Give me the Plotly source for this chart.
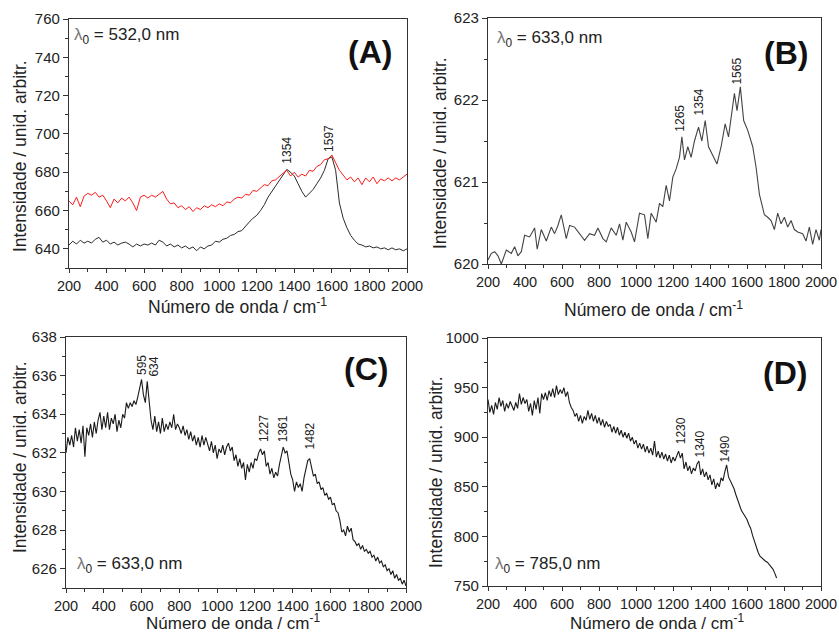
import plotly.graph_objects as go

# ---------------- data ----------------
WN20 = [200, 220, 240, 260, 280, 300, 320, 340, 360, 380, 400, 420, 440, 460, 480, 500,
        520, 540, 560, 580, 600, 620, 640, 660, 680, 700, 720, 740, 760, 780, 800, 820,
        840, 860, 880, 900, 920, 940, 960, 980, 1000, 1020, 1040, 1060, 1080, 1100, 1120,
        1140, 1160, 1180, 1200, 1220, 1240, 1260, 1280, 1300, 1320, 1340, 1360, 1380, 1400,
        1420, 1440, 1460, 1480, 1500, 1520, 1540, 1560, 1580, 1600, 1620, 1640, 1660, 1680,
        1700, 1720, 1740, 1760, 1780, 1800, 1820, 1840, 1860, 1880, 1900, 1920, 1940, 1960,
        1980, 2000]

A_black = [642, 644, 642.5, 644.5, 643, 644, 643, 645, 646, 643.5, 644.5, 642.5, 643.5, 642,
           643, 643.5, 642.5, 641, 642.5, 641.5, 642.5, 642, 643, 642, 644.5, 643.5, 641.5,
           642.5, 641, 642, 640.5, 641.5, 640, 641, 639, 641, 640, 641.5, 642, 644, 643.5,
           645, 645.5, 647, 647.5, 649, 649.5, 652, 654, 656, 657.5, 660, 663, 667, 670, 673,
           676, 679, 681.5, 680, 678, 674, 670, 667, 669, 671, 674, 677, 681, 687, 688, 681,
           664, 656, 651, 647, 644.5, 642.5, 642, 641, 641.5, 640.5, 641, 640, 640.5, 639.5,
           640.5, 639.5, 640, 639, 640]

A_red = [665, 663, 667, 662, 667.5, 669, 668, 669.5, 667, 668, 665, 661.5, 666, 664, 666.5,
         665, 667, 664, 660, 667, 668, 666.5, 668, 667, 668.5, 670, 666, 663.5, 664, 661.5,
         662.5, 660.5, 662, 659.5, 661.5, 660.5, 662.5, 661.5, 663, 662, 663.5, 662.5, 664.5,
         664, 666, 667, 666.5, 668.5, 668, 670.5, 670, 672, 673.5, 673, 675.5, 676, 678,
         679.5, 681, 678, 680, 677.5, 679, 678, 681, 680.5, 683, 684, 686.5, 687, 689, 685,
         681, 678.5, 676, 677.5, 675, 677, 673.5, 677, 675, 677.5, 674, 676.5, 675.5, 677,
         675.5, 677, 676, 677.5, 679]

B_x = [200, 218, 236, 254, 272, 299, 326, 344, 362, 380, 398, 425, 452, 466, 488, 515, 542,
       560, 578, 596, 623, 641, 668, 695, 722, 749, 776, 794, 821, 839, 866, 893, 911, 929,
       947, 974, 992, 1019, 1046, 1064, 1082, 1109, 1127, 1145, 1163, 1181, 1199, 1217, 1235,
       1248, 1262, 1280, 1298, 1316, 1338, 1356, 1374, 1392, 1410, 1424, 1438, 1460, 1482,
       1500, 1532, 1546, 1564, 1582, 1604, 1631, 1649, 1667, 1694, 1712, 1730, 1748, 1766,
       1784, 1802, 1820, 1838, 1856, 1874, 1901, 1919, 1937, 1955, 1973, 1991, 2000]
B_y = [620.05, 620.13, 620.15, 620.1, 620.0, 620.17, 620.13, 620.21, 620.1, 620.15, 620.35,
       620.33, 620.44, 620.18, 620.42, 620.28, 620.45, 620.37, 620.47, 620.6, 620.31, 620.47,
       620.45, 620.37, 620.29, 620.37, 620.35, 620.44, 620.31, 620.27, 620.44, 620.35, 620.49,
       620.29, 620.51, 620.39, 620.27, 620.62, 620.6, 620.31, 620.62, 620.51, 620.74, 620.7,
       620.96, 620.77, 621.06, 621.16, 621.3, 621.55, 621.27, 621.43, 621.3, 621.5, 621.67,
       621.5, 621.75, 621.43, 621.35, 621.3, 621.22, 621.43, 621.71, 621.55, 622.08, 621.87,
       622.16, 621.75, 621.63, 621.43, 621.18, 620.85, 620.6, 620.57, 620.53, 620.42, 620.62,
       620.49, 620.57, 620.45, 620.53, 620.42, 620.39, 620.37, 620.28, 620.45, 620.24, 620.42,
       620.29, 620.42]

WN10 = [200, 210, 220, 230, 240, 250, 260, 270, 280, 290, 300, 310, 320, 330, 340, 350, 360,
        370, 380, 390, 400, 410, 420, 430, 440, 450, 460, 470, 480, 490, 500, 510, 520, 530,
        540, 550, 560, 570, 580, 590, 600, 610, 620, 630, 640, 650, 660, 670, 680, 690, 700,
        710, 720, 730, 740, 750, 760, 770, 780, 790, 800, 810, 820, 830, 840, 850, 860, 870,
        880, 890, 900, 910, 920, 930, 940, 950, 960, 970, 980, 990, 1000, 1010, 1020, 1030,
        1040, 1050, 1060, 1070, 1080, 1090, 1100, 1110, 1120, 1130, 1140, 1150, 1160, 1170,
        1180, 1190, 1200, 1210, 1220, 1230, 1240, 1250, 1260, 1270, 1280, 1290, 1300, 1310,
        1320, 1330, 1340, 1350, 1360, 1370, 1380, 1390, 1400, 1410, 1420, 1430, 1440, 1450,
        1460, 1470, 1480, 1490, 1500, 1510, 1520, 1530, 1540, 1550, 1560, 1570, 1580, 1590,
        1600, 1610, 1620, 1630, 1640, 1650, 1660, 1670, 1680, 1690, 1700, 1710, 1720, 1730,
        1740, 1750, 1760, 1770, 1780, 1790, 1800, 1810, 1820, 1830, 1840, 1850, 1860, 1870,
        1880, 1890, 1900, 1910, 1920, 1930, 1940, 1950, 1960, 1970, 1980, 1990, 2000]

C_y = [632.0, 632.8, 632.4, 632.9, 632.3, 633.3, 632.6, 633.2, 632.5, 633.4, 631.8, 633.3,
       632.9, 633.5, 632.8, 633.6, 633.0, 633.7, 634.1, 633.2, 633.9, 633.3, 634.1, 633.2,
       633.8, 633.5, 634.0, 633.1, 633.7, 633.3, 634.0, 633.8, 634.6, 634.3, 634.6, 634.4,
       634.7, 634.5, 634.9, 635.3, 635.8, 635.0, 634.6, 635.7, 634.5, 633.7, 633.2, 633.9,
       633.1, 633.6, 633.0, 633.8, 633.1, 633.5, 633.2, 633.6, 633.3, 634.0, 633.2, 633.5,
       633.3, 633.0, 633.4, 632.9, 633.2, 632.7, 633.1, 632.6, 632.9, 632.4, 632.8, 632.3,
       632.9, 632.4, 632.8, 632.5, 632.1, 632.6, 632.0, 632.4, 631.7, 632.2, 632.0, 632.4,
       631.9, 632.3, 632.5, 632.1, 632.3, 631.6, 631.9, 631.3, 631.7, 631.2, 631.5, 630.6,
       631.4, 631.0, 631.5, 631.2, 631.7, 631.6, 632.0, 632.2, 631.9, 632.1, 631.3, 631.5,
       630.9, 631.2, 630.7, 631.0, 630.8, 631.4, 631.9, 632.3, 632.0, 632.1, 631.5, 630.9,
       630.6, 630.0, 630.5, 630.2, 630.4, 630.0, 630.7, 631.1, 631.6, 631.7, 631.2, 630.8,
       630.9, 630.4, 630.5, 630.1, 630.2, 629.8, 629.9, 629.6, 629.7, 629.3, 629.4, 629.0,
       628.9, 628.5, 627.9, 628.0, 627.7, 628.2, 627.9, 628.1, 627.5, 627.4, 627.2, 627.3,
       627.0, 627.2, 626.9, 627.0, 626.8, 626.9, 626.6, 626.7, 626.4, 626.6, 626.3, 626.4,
       626.1, 626.2, 625.9, 626.0, 625.7, 625.9, 625.5, 625.7, 625.4, 625.5, 625.2, 625.4,
       625.1]

D_x = WN10[:157]
D_y = [938, 925, 932, 923, 935, 928, 940, 931, 937, 926, 934, 929, 936, 931, 927, 935, 929,
       944, 933, 940, 934, 938, 926, 934, 922, 937, 928, 940, 924, 944, 938, 945, 937, 947,
       941, 949, 940, 952, 943, 948, 944, 950, 941, 946, 935, 930, 927, 921, 924, 916, 922,
       914, 921, 917, 927, 918, 924, 916, 922, 914, 920, 912, 918, 910, 916, 911, 913, 905,
       911, 904, 910, 902, 907, 900, 905, 899, 904, 896, 900, 893, 897, 889, 894, 888, 893,
       885, 891, 884, 889, 882, 896, 880, 886, 879, 885, 878, 883, 876, 882, 874, 880, 876,
       882, 886, 879, 884, 868, 875, 866, 871, 863, 869, 866, 873, 876, 862, 868, 860, 865,
       857, 862, 852, 858, 848, 854, 850, 859, 856, 865, 872, 860, 856, 851, 848, 842, 836,
       831, 826, 823, 820, 817, 812, 808, 801, 795, 789, 784, 780, 778, 777, 775, 774, 772,
       770, 767, 763, 758]

# peak labels: (text, x, y of label base)
A_peaks = [("1354", 1359, 684), ("1597", 1581, 690)]
B_peaks = [("1265", 1240, 621.6), ("1354", 1338, 621.8), ("1565", 1545, 622.18)]
C_peaks = [("595", 599, 636.0), ("634", 666, 635.9), ("1227", 1244, 632.5),
           ("1361", 1347, 632.5), ("1482", 1492, 632.1)]
D_peaks = [("1230", 1241, 892), ("1340", 1346, 878), ("1490", 1486, 874)]

PANEL_LABELS = ["(A)", "(B)", "(C)", "(D)"]
LAMBDAS = ["532,0", "633,0", "633,0", "785,0"]
X_TITLE = "Número de onda / cm<sup>-1</sup>"
Y_TITLE = "Intensidade / unid. arbitr."

# ---------------- figure ----------------
W, H = 839, 635
FONT = "Liberation Sans"


def px(x):
    return x / W


def py(y):
    return 1 - y / H


fig = go.Figure()

fig.add_trace(go.Scatter(x=WN20, y=A_black, mode="lines", line=dict(color="#2b2b2b", width=1),
                         xaxis="x", yaxis="y"))
fig.add_trace(go.Scatter(x=WN20, y=A_red, mode="lines", line=dict(color="#ff1a1a", width=1),
                         xaxis="x", yaxis="y"))
fig.add_trace(go.Scatter(x=B_x, y=B_y, mode="lines", line=dict(color="#444444", width=1.1),
                         xaxis="x2", yaxis="y2"))
fig.add_trace(go.Scatter(x=WN10, y=C_y, mode="lines", line=dict(color="#1a1a1a", width=1.1),
                         xaxis="x3", yaxis="y3"))
fig.add_trace(go.Scatter(x=D_x, y=D_y, mode="lines", line=dict(color="#1a1a1a", width=1.1),
                         xaxis="x4", yaxis="y4"))

common = dict(showline=True, linecolor="#333333", linewidth=1.2, mirror=True,
              ticks="outside", ticklen=5, tickwidth=1, tickcolor="#333333",
              showgrid=False, zeroline=False, automargin=False,
              tickfont=dict(family=FONT, size=15, color="#222222"))


def xax(domain, anchor):
    return dict(common, domain=domain, anchor=anchor, range=[200, 2000], dtick=200, tick0=200,
                ticklen=4, tickfont=dict(family=FONT, size=14.5, color="#222222"),
                minor=dict(ticks="outside", ticklen=3, dtick=100, tick0=200, tickcolor="#333333"))


def yax(domain, anchor, rng, dtick, tick0, mdt):
    return dict(common, domain=domain, anchor=anchor, range=rng, dtick=dtick, tick0=tick0,
                minor=dict(ticks="outside", ticklen=3, dtick=mdt, tick0=tick0, tickcolor="#333333"))


fig.update_layout(
    width=W, height=H, margin=dict(l=0, r=0, t=0, b=0, autoexpand=False),
    paper_bgcolor="white", plot_bgcolor="white", showlegend=False,
    font=dict(family=FONT, color="#222222"),
    xaxis=xax([px(69), px(407)], "y"),
    yaxis=yax([py(268), py(19)], "x", [630, 760], 20, 640, 10),
    xaxis2=xax([px(488), px(821)], "y2"),
    yaxis2=yax([py(264), py(18)], "x2", [620, 623], 1, 620, 0.5),
    xaxis3=xax([px(66), px(406)], "y3"),
    yaxis3=yax([py(588), py(337)], "x3", [625, 638], 2, 626, 1),
    xaxis4=xax([px(488), px(821)], "y4"),
    yaxis4=yax([py(586), py(338)], "x4", [750, 1000], 50, 750, 25),
)

ann = []
# axis titles
for (cx, cy) in [(20, 156), (440, 153), (20, 457), (436, 472)]:
    ann.append(dict(x=px(cx), y=py(cy), xref="paper", yref="paper", text=Y_TITLE,
                    xanchor="center", yanchor="middle",
                    textangle=-90, showarrow=False, font=dict(family=FONT, size=17.5, color="#222")))
for (cx, cy) in [(237, 306), (653, 309)]:
    ann.append(dict(x=px(cx), y=py(cy), xref="paper", yref="paper", text=X_TITLE,
                    xanchor="center", yanchor="middle",
                    showarrow=False, font=dict(family=FONT, size=17.5, color="#222")))
for cx in [233, 657]:
    ann.append(dict(x=px(cx), y=py(634), xref="paper", yref="paper", text=X_TITLE,
                    xanchor="center", yanchor="bottom", borderpad=0,
                    showarrow=False, font=dict(family=FONT, size=17, color="#222")))
# panel labels
for lab, (cx, cy) in zip(PANEL_LABELS, [(370, 52), (786, 53), (366, 369), (785, 373)]):
    ann.append(dict(x=px(cx), y=py(cy), xref="paper", yref="paper", text="<b>" + lab + "</b>",
                    xanchor="center", yanchor="middle",
                    showarrow=False, font=dict(family=FONT, size=32, color="#111")))
# lambda labels
for lam, (lx, ly) in zip(LAMBDAS, [(72, 36), (495, 39), (75, 565), (493, 565)]):
    ann.append(dict(x=px(lx), y=py(ly), xref="paper", yref="paper", xanchor="left",
                    yanchor="middle",
                    text="<span style='color:#777'>λ</span><sub>0</sub> = " + lam + " nm",
                    showarrow=False, font=dict(family=FONT, size=17, color="#222")))
# peak labels
for peaks, xr, yr in [(A_peaks, "x", "y"), (B_peaks, "x2", "y2"), (C_peaks, "x3", "y3"),
                      (D_peaks, "x4", "y4")]:
    for t, xv, yv in peaks:
        ann.append(dict(x=xv, y=yv, xref=xr, yref=yr, text=t, textangle=-90, showarrow=False,
                        xanchor="center", yanchor="bottom", borderpad=0,
                        font=dict(family=FONT, size=12, color="#222")))

fig.update_layout(annotations=ann)
fig.write_html("out.html", config={"displayModeBar": False},
               post_script="document.body.style.margin='0';document.body.style.padding='0';")
